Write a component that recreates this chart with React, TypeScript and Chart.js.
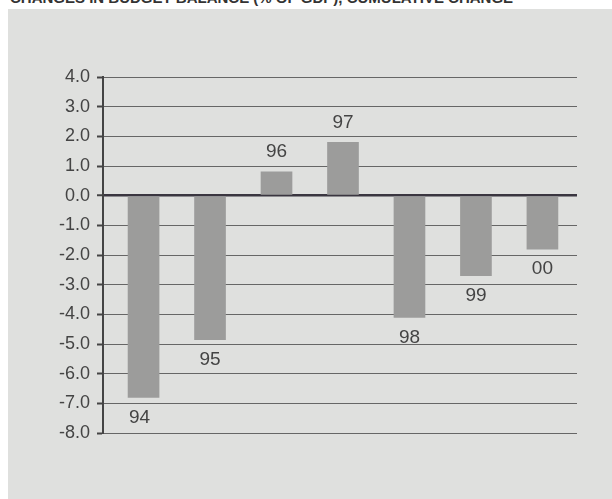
import React, { useEffect, useRef } from "react";
import { Chart, registerables } from "chart.js";

Chart.register(...registerables);

const categories = ["94", "95", "96", "97", "98", "99", "00"];
const values = [-6.8, -4.85, 0.8, 1.8, -4.1, -2.7, -1.8];
const yTicks = [4, 3, 2, 1, 0, -1, -2, -3, -4, -5, -6, -7, -8];
const titleText = "CHANGES IN BUDGET BALANCE (% OF GDP), CUMULATIVE CHANGE";

const barLabelPlugin = {
  id: "barLabels",
  afterDatasetsDraw(chart: any) {
    const ctx = chart.ctx;
    const meta = chart.getDatasetMeta(0);
    ctx.save();
    ctx.fillStyle = "#444";
    ctx.font = "19px 'Liberation Sans', Arial, sans-serif";
    ctx.textAlign = "center";
    ctx.textBaseline = "middle";
    meta.data.forEach((el: any, i: number) => {
      const v = values[i];
      const y = v < 0 ? el.y + 20 : el.y - 20;
      ctx.fillText(categories[i], el.x - (i === 0 ? 4 : 0), y);
    });
    ctx.restore();
  },
};

export default function App() {
  const ref = useRef<HTMLCanvasElement | null>(null);
  useEffect(() => {
    if (!ref.current) return;
    const chart = new Chart(ref.current, {
      type: "bar",
      data: {
        datasets: [
          {
            data: values.map((v, i) => ({ x: i, y: v })),
            backgroundColor: "#9c9c9b",
            barThickness: 31,
          },
        ],
      },
      options: {
        animation: false,
        responsive: false,
        maintainAspectRatio: false,
        layout: { padding: { left: 0, top: 77, right: 35, bottom: 66 } },
        plugins: { legend: { display: false }, tooltip: { enabled: false } },
        scales: {
          x: {
            type: "linear",
            display: false,
            min: -0.61,
            max: 6.52,
            offset: false,
          },
          y: {
            min: -8,
            max: 4,
            afterFit(scale: any) {
              scale.width = 103;
            },
            afterBuildTicks(scale: any) {
              scale.ticks = yTicks.map((v) => ({ value: v }));
            },
            ticks: {
              color: "#444",
              font: { family: "'Liberation Sans', Arial, sans-serif", size: 18 },
              padding: 7,
              callback: (v: any) => Number(v).toFixed(1),
            },
            grid: {
              color: (c: any) => (c.tick && c.tick.value === 0 ? "#3a3640" : "#666"),
              lineWidth: (c: any) => (c.tick && c.tick.value === 0 ? 2.5 : 1),
              tickColor: "#444",
              tickLength: 6,
              tickWidth: 2,
            },
            border: { color: "#444", width: 2 },
          },
        },
      },
      plugins: [barLabelPlugin],
    });
    return () => chart.destroy();
  }, []);

  return (
    <div style={{ position: "absolute", left: 0, top: 0, width: 612, height: 499, background: "#fff", overflow: "hidden" }}>
      <div
        style={{
          position: "absolute",
          left: 10,
          top: -10,
          fontFamily: "'Liberation Sans', Arial, sans-serif",
          fontWeight: "bold",
          fontSize: 15,
          color: "#333",
          whiteSpace: "nowrap",
          lineHeight: "16px",
        }}
      >
        {titleText}
      </div>
      <div style={{ position: "absolute", left: 8, top: 9, width: 604, height: 490, background: "#dfe0de" }} />
      <canvas ref={ref} width={612} height={499} style={{ position: "absolute", left: 0, top: 0 }} />
    </div>
  );
}
